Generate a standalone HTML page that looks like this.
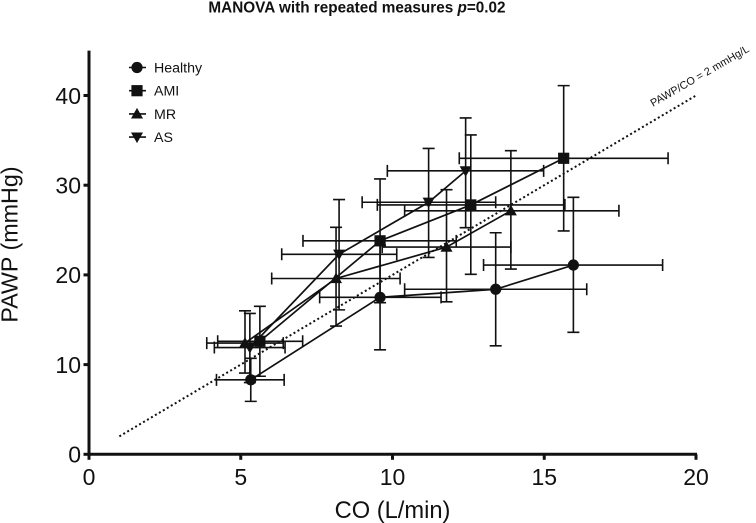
<!DOCTYPE html>
<html lang="en">
<head>
<meta charset="utf-8">
<title>PAWP vs CO</title>
<style>
html,body{margin:0;padding:0;background:#fff;}
svg{display:block;}
text{font-family:"Liberation Sans",Arial,sans-serif;fill:#111;}
</style>
</head>
<body>
<svg id="chart" xmlns="http://www.w3.org/2000/svg" width="756" height="523" viewBox="0 0 756 523">
  <text x="357" y="12.7" text-anchor="middle" font-size="15.3" font-weight="bold">MANOVA with repeated measures <tspan font-style="italic">p</tspan>=0.02</text>
  <g id="plot"></g>
  <g id="axes"></g>
  <g id="legend"></g>
  <text x="392.5" y="518" text-anchor="middle" font-size="23.7">CO (L/min)</text>
  <text transform="translate(17.5 244.5) rotate(-90)" text-anchor="middle" font-size="23.3">PAWP (mmHg)</text>
  <text transform="translate(653 107) rotate(-30)" font-size="10.8">PAWP/CO = 2 mmHg/L</text>
</svg>
<script>
const seriesNames = ['Healthy', 'AMI', 'MR', 'AS'];
const xTicks = [0, 5, 10, 15, 20];
const yTicks = [0, 10, 20, 30, 40];
const refLineX = [1, 20];
const refLineY = [2, 40];

const healthyX = [5.33, 9.59, 13.4, 15.96];
const healthyY = [8.3, 17.5, 18.4, 21.1];
const healthyXLow = [4.2, 7.6, 10.4, 13.0];
const healthyXHigh = [6.43, 11.6, 16.4, 18.9];
const healthyYLow = [5.9, 11.65, 12.1, 13.6];
const healthyYHigh = [10.7, 23.3, 24.7, 28.65];

const amiX = [5.63, 9.59, 12.58, 15.64];
const amiY = [12.6, 23.8, 27.8, 33.0];
const amiXLow = [4.24, 7.05, 9.5, 12.2];
const amiXHigh = [7.04, 12.1, 15.68, 19.08];
const amiYLow = [8.7, 16.9, 20.07, 24.9];
const amiYHigh = [16.5, 30.7, 35.6, 41.1];

const mrX = [5.14, 8.14, 11.78, 13.9];
const mrY = [12.4, 19.6, 23.1, 27.15];
const mrXLow = [3.88, 6.02, 9.66, 10.4];
const mrXHigh = [6.4, 10.25, 13.9, 17.46];
const mrYLow = [9.06, 14.3, 17.0, 20.65];
const mrYHigh = [16.0, 25.3, 29.5, 33.85];

const asX = [5.3, 8.24, 11.19, 12.41];
const asY = [11.9, 22.3, 28.1, 31.6];
const asXLow = [4.13, 6.35, 9.0, 9.83];
const asXHigh = [6.46, 10.14, 13.4, 14.98];
const asYLow = [8.0, 16.1, 21.95, 25.26];
const asYHigh = [15.7, 28.4, 34.1, 37.5];

const NS = 'http://www.w3.org/2000/svg';
const INK = '#111';
function xScale(v) { return 89 + v * 30.35; }
function yScale(v) { return 454.3 - v * 8.97; }

function make(tag, attrs, parent) {
  const el = document.createElementNS(NS, tag);
  for (const k in attrs) el.setAttribute(k, attrs[k]);
  parent.appendChild(el);
  return el;
}

function drawMarker(kind, cx, cy, parent) {
  let el;
  if (kind === 'Healthy') {
    el = make('circle', { cx: cx, cy: cy, r: 5.6, fill: INK }, parent);
  } else if (kind === 'AMI') {
    el = make('rect', { x: cx - 5.6, y: cy - 5.6, width: 11.2, height: 11.2, fill: INK }, parent);
  } else if (kind === 'MR') {
    el = make('polygon', { points: (cx - 6) + ',' + (cy + 4.6) + ' ' + (cx + 6) + ',' + (cy + 4.6) + ' ' + cx + ',' + (cy - 6), fill: INK }, parent);
  } else {
    el = make('polygon', { points: (cx - 6) + ',' + (cy - 4.6) + ' ' + (cx + 6) + ',' + (cy - 4.6) + ' ' + cx + ',' + (cy + 6), fill: INK }, parent);
  }
  return el;
}

const plot = document.getElementById('plot');
const axes = document.getElementById('axes');
const legend = document.getElementById('legend');

const refLine = make('line', {
  x1: xScale(refLineX[0]), y1: yScale(refLineY[0]),
  x2: xScale(refLineX[1]), y2: yScale(refLineY[1]),
  stroke: INK, 'stroke-width': 2, 'stroke-dasharray': '2 2.6'
}, plot);



function drawSeries(name, xs, ys, xLow, xHigh, yLow, yHigh) {
  const g = make('g', { fill: 'none', stroke: INK, 'stroke-width': 1.6 }, plot);
  
  
  const cap = 6;
  xs.forEach(function (x, i) {
    const cx = xScale(x), cy = yScale(ys[i]);
    const xa = xScale(xLow[i]), xb = xScale(xHigh[i]);
    const ya = yScale(yLow[i]), yb = yScale(yHigh[i]);
    const err = make('path', {
      d: 'M' + xa + ' ' + cy + 'H' + xb +
         'M' + xa + ' ' + (cy - cap) + 'V' + (cy + cap) +
         'M' + xb + ' ' + (cy - cap) + 'V' + (cy + cap) +
         'M' + cx + ' ' + ya + 'V' + yb +
         'M' + (cx - cap) + ' ' + ya + 'H' + (cx + cap) +
         'M' + (cx - cap) + ' ' + yb + 'H' + (cx + cap)
    }, g);
    
    
  });
  const pts = xs.map(function (x, i) { return xScale(x) + ',' + yScale(ys[i]); }).join(' ');
  const line = make('polyline', { points: pts, 'stroke-width': 1.7 }, g);
  
  
  xs.forEach(function (x, i) {
    const m = drawMarker(name, xScale(x), yScale(ys[i]), g);
    m.setAttribute('stroke', 'none');
    
    
  });
}

drawSeries(seriesNames[0], healthyX, healthyY, healthyXLow, healthyXHigh, healthyYLow, healthyYHigh);
drawSeries(seriesNames[1], amiX, amiY, amiXLow, amiXHigh, amiYLow, amiYHigh);
drawSeries(seriesNames[2], mrX, mrY, mrXLow, mrXHigh, mrYLow, mrYHigh);
drawSeries(seriesNames[3], asX, asY, asXLow, asXHigh, asYLow, asYHigh);

const yAxisLine = make('line', { x1: xScale(0), y1: yScale(45), x2: xScale(0), y2: yScale(0) + 1.5, stroke: INK, 'stroke-width': 3 }, axes);


const xAxisLine = make('line', { x1: xScale(0) - 1.5, y1: yScale(0), x2: xScale(20) + 1, y2: yScale(0), stroke: INK, 'stroke-width': 3 }, axes);



xTicks.forEach(function (t) {
  const tick = make('line', { x1: xScale(t), y1: yScale(0), x2: xScale(t), y2: yScale(0) + 5.5, stroke: INK, 'stroke-width': 3 }, axes);
  
  
  const label = make('text', { x: xScale(t), y: 485, 'text-anchor': 'middle', 'font-size': 23 }, axes);
  label.textContent = t;
  
  
});
yTicks.forEach(function (t) {
  const tick = make('line', { x1: xScale(0), y1: yScale(t), x2: xScale(0) - 5.5, y2: yScale(t), stroke: INK, 'stroke-width': 3 }, axes);
  
  
  const label = make('text', { x: 81, y: yScale(t) + 8.3, 'text-anchor': 'end', 'font-size': 23 }, axes);
  label.textContent = t;
  
  
});

seriesNames.forEach(function (name, i) {
  const row = make('g', {}, legend);
  
  
  const ly = 67.5 + i * 23.2;
  make('line', { x1: 129, y1: ly, x2: 146, y2: ly, stroke: INK, 'stroke-width': 1.6 }, row);
  drawMarker(name, 137, ly, row);
  const label = make('text', { x: 154, y: ly + 4.9, 'font-size': 14.2 }, row);
  label.textContent = name;
});
</script>
</body>
</html>
